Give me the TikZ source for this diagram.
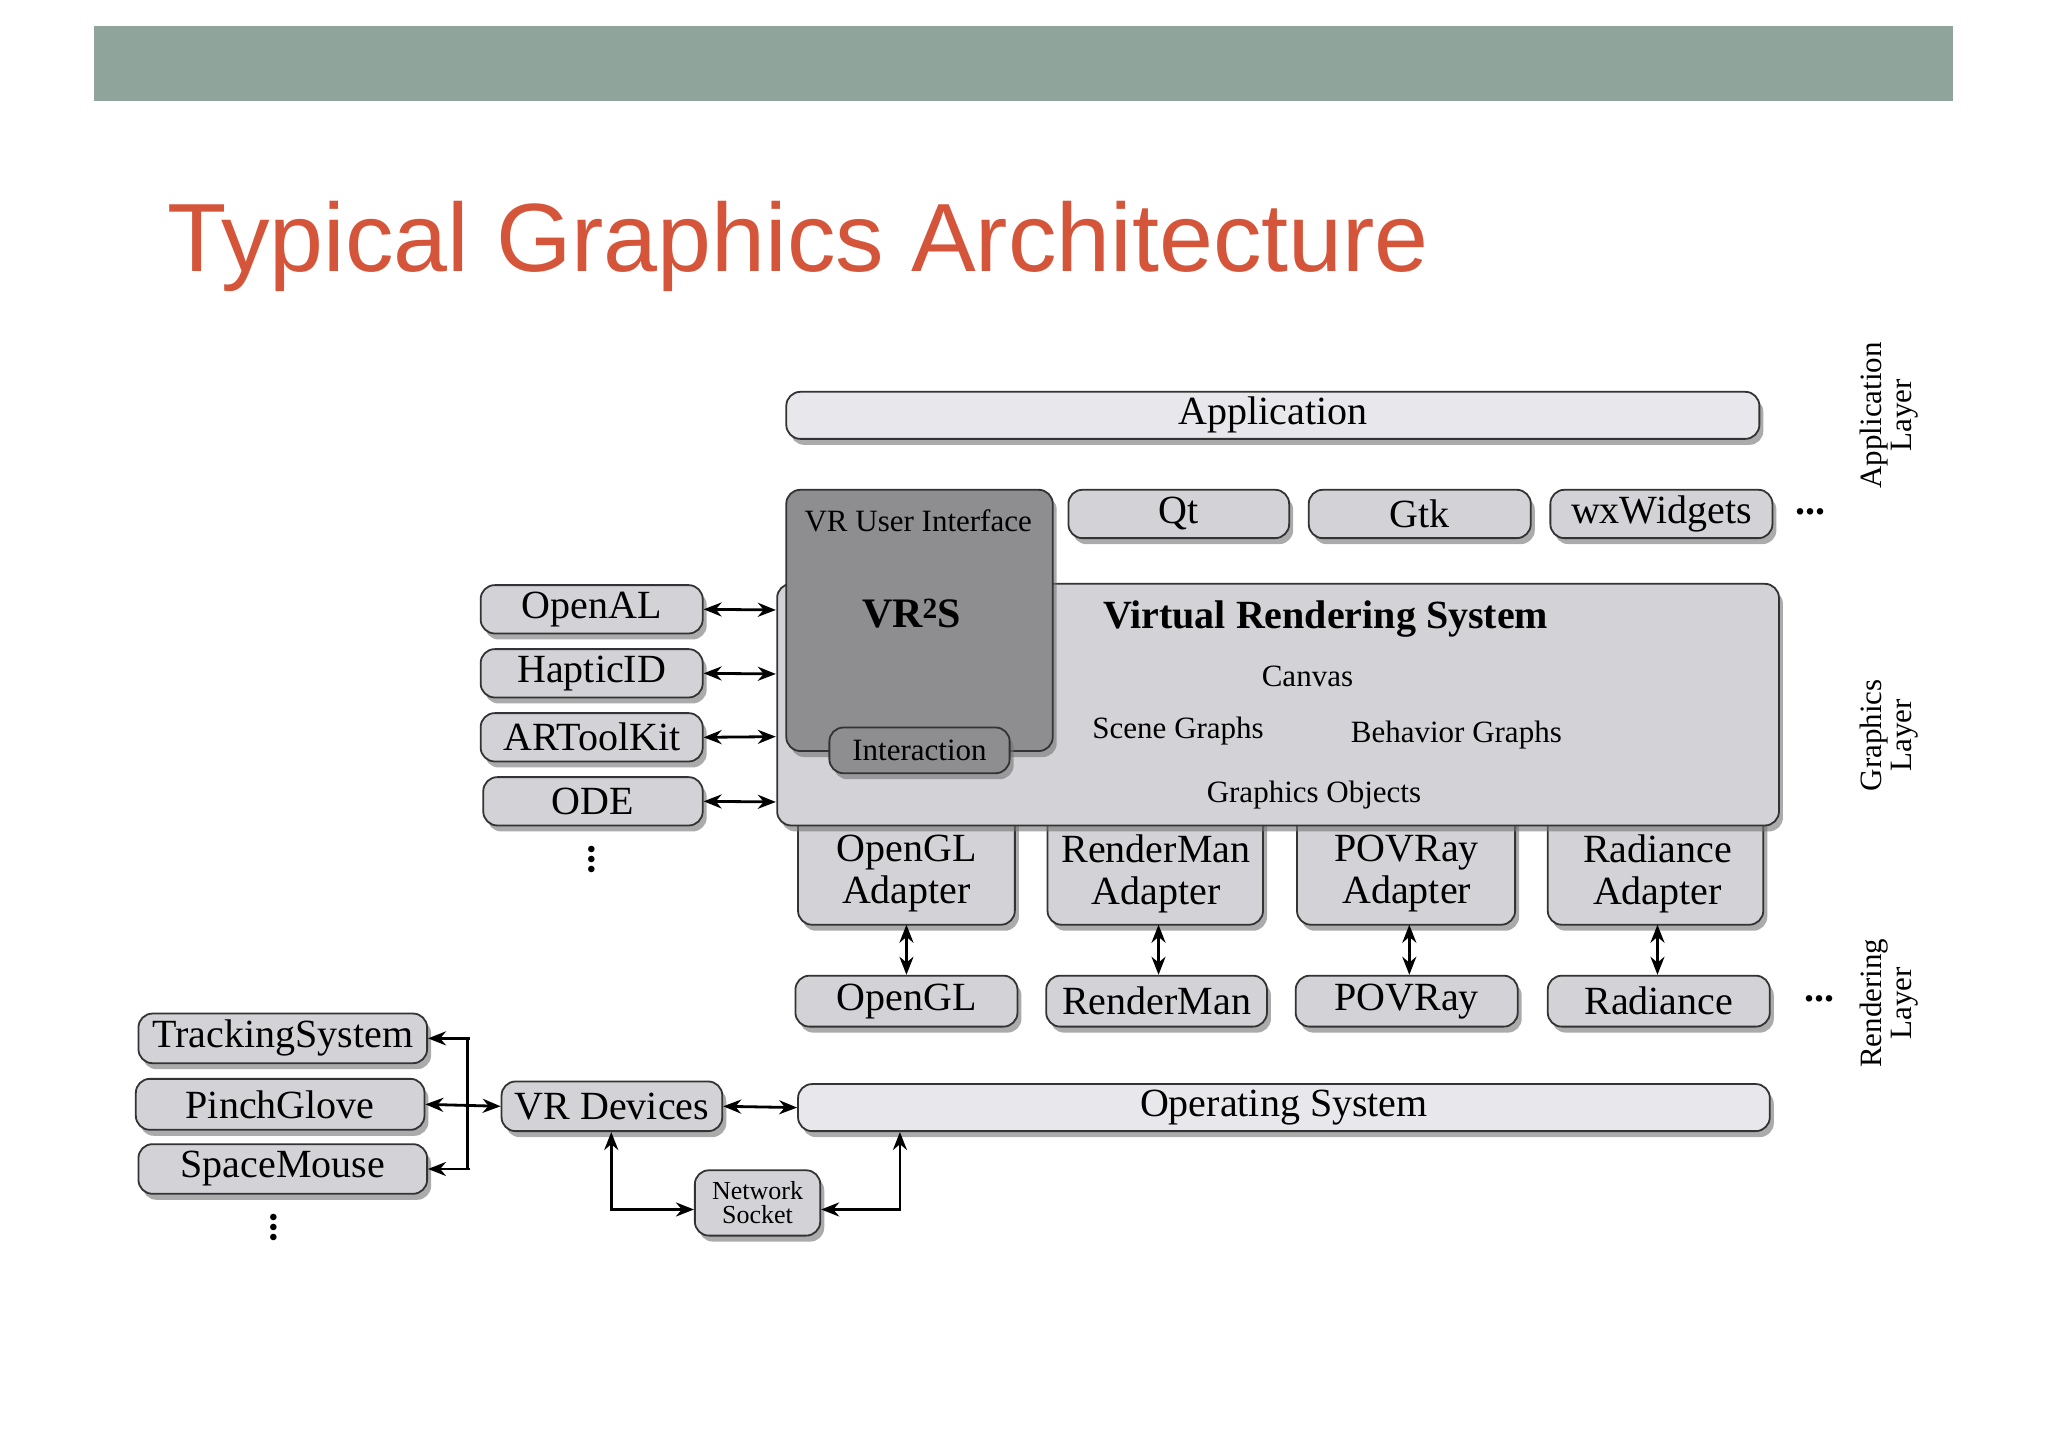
\documentclass[tikz,border=0pt]{standalone}
\usepackage{fontspec}
\setmainfont{Liberation Serif}
\newfontfamily\titlefont{Liberation Sans}
\usetikzlibrary{fit,shadows,arrows.meta}
\definecolor{hdr}{HTML}{8FA59B}
\definecolor{ttl}{HTML}{D4553A}
\definecolor{lbox}{HTML}{D3D3D7}
\definecolor{lite}{HTML}{E8E8EC}
\definecolor{dbox}{HTML}{8E8E91}
\tikzset{
 box/.style={draw=black!80, line width=1.8pt, rounded corners=14pt, fill=lbox, inner sep=0pt,
   drop shadow={shadow xshift=4pt, shadow yshift=-6pt, fill=black!55, opacity=0.6}},
 litebox/.style={box, fill=lite},
 darkbox/.style={box, fill=dbox},
 btxt/.style={font=\fontsize{40}{42}\selectfont, align=center, inner sep=0pt},
 arr/.style={line width=2.8pt, -{Stealth[length=18pt,width=14pt]}},
 darr/.style={line width=2.8pt, {Stealth[length=18pt,width=14pt]}-{Stealth[length=18pt,width=14pt]}},
 lay/.style={rotate=90, align=center, font=\fontsize{31}{30}\selectfont},
 small/.style={font=\fontsize{31}{31}\selectfont},
 dots/.style={font=\fontsize{40}{40}\bfseries\selectfont}
}
% \bx{style}{name}{x1,y1}{x2,y2}{text}
\newcommand{\bx}[5]{\node[#1, fit={(#3)(#4)}] (#2) {};\node[btxt] (#2t) at (#2.center) {#5};}
\begin{document}
\begin{tikzpicture}[x=1.306pt,y=-1.306pt]
\useasboundingbox (0,0) rectangle (1568,1108);
\fill[hdr] (72,20) rectangle (1495,77);
\node[anchor=base west, text=ttl, inner sep=0, font=\titlefont\fontsize{97}{97}\selectfont] (title) at (128,208) {Typical Graphics Architecture};

% application layer
\bx{litebox}{app}{602,300}{1347,336}{Application}
\bx{box}{qt}{818,375}{987,412}{Qt}
\bx{box}{gtk}{1002,375}{1172,412}{Gtk}
\bx{box}{wx}{1187,375}{1357,412}{wxWidgets}
\node[dots] (d1) at (1386,392) {...};

% adapters (under VRS)
\node[box, fit={(611,610)(777,708)}] (aogl) {};
\node[box, fit={(802,610)(967,708)}] (arm) {};
\node[box, fit={(993,610)(1160,708)}] (apov) {};
\node[box, fit={(1185,610)(1350,708)}] (arad) {};
\node[btxt] (taogl) at (694,669) {OpenGL\\Adapter};
\node[btxt] (tarm) at (885,669) {RenderMan\\Adapter};
\node[btxt] (tapov) at (1077,669) {POVRay\\Adapter};
\node[btxt] (tarad) at (1269,669) {Radiance\\Adapter};

% VRS
\node[box, fit={(595,447)(1362,632)}] (vrs) {};
\node[font=\fontsize{40}{40}\bfseries\selectfont] (vrst) at (1015,474) {Virtual Rendering System};
\node[small] (canvas) at (1001,518) {Canvas};
\node[small] (scene) at (902,560) {Scene Graphs};
\node[small] (beh) at (1115,563) {Behavior Graphs};
\node[small] (gobj) at (1006,609) {Graphics Objects};
\node[darkbox, fit={(602,375)(806,575)}] (vrui) {};
\node[small] (vruit) at (703,399) {VR User Interface};
\node[font=\fontsize{42}{42}\bfseries\selectfont] (vr2s) at (698,470) {VR\textsuperscript{2}S};
\node[darkbox, fit={(635,557)(773,592)}] (inter) {};
\node[small, inner sep=0pt] (intert) at (inter.center) {Interaction};

% left boxes
\bx{box}{oal}{368,448}{538,485}{OpenAL}
\bx{box}{hap}{368,497}{538,534}{HapticID}
\bx{box}{art}{368,546}{538,583}{ARToolKit}
\bx{box}{ode}{370,595}{538,632}{ODE}
\coordinate (v1) at (594,467);
\coordinate (v2) at (594,516);
\coordinate (v3) at (594,564);
\coordinate (v4) at (594,614);
\draw[darr] (oal.east) -- (v1);
\draw[darr] (hap.east) -- (v2);
\draw[darr] (art.east) -- (v3);
\draw[darr] (ode.east) -- (v4);
\node[dots, rotate=90] (d2) at (453,658) {...};

% rendering
\bx{box}{ogl}{609,747}{779,786}{OpenGL}
\bx{box}{rm}{801,747}{970,786}{RenderMan}
\bx{box}{pov}{992,747}{1162,786}{POVRay}
\bx{box}{rad}{1185,747}{1355,786}{Radiance}
\node[dots] (d3) at (1393,765) {...};
\draw[darr] (694,708) -- (ogl.north -| 694,0);
\draw[darr] (887,708) -- (rm.north -| 887,0);
\draw[darr] (1079,708) -- (pov.north -| 1079,0);
\draw[darr] (1269,708) -- (rad.north -| 1269,0);

% devices
\bx{box}{trk}{106,776}{327,814}{TrackingSystem}
\bx{box}{pg}{104,826}{325,865}{PinchGlove}
\bx{box}{sm}{106,876}{327,914}{SpaceMouse}
\node[dots, rotate=90] (d4) at (210,940) {...};
\bx{box}{vrd}{384,828}{553,866}{VR Devices}
\bx{litebox}{os}{611,830}{1355,866}{Operating System}
\node[box, fit={(532,896)(628,946)}] (ns) {};
\node[font=\fontsize{26}{24}\selectfont, align=center, inner sep=0pt] (nst) at (ns.center) {Network\\Socket};
\draw[line width=2.8pt] (358,795) -- (358,895);
\draw[arr] (359.5,795) -- (trk.east);
\draw[arr] (359.5,895) -- (sm.east);
\draw[darr] (pg.east) -- (vrd.west);
\draw[darr] (vrd.east) -- (os.west);
\draw[darr] (vrd.south -| 468,0) -- (468,926) -- (ns.west |- 0,926);
\draw[darr] (os.south -| 689,0) -- (689,926) -- (ns.east |- 0,926);

% layer labels
\node[lay] (l1) at (1446,318) {Application\\Layer};
\node[lay] (l2) at (1446,563) {Graphics\\Layer};
\node[lay] (l3) at (1446,768) {Rendering\\Layer};
\end{tikzpicture}
\end{document}
